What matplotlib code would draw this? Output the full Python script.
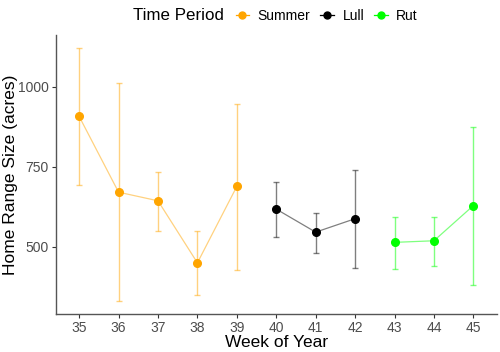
import numpy as np
import matplotlib
matplotlib.use('Agg')
import matplotlib.pyplot as plt
from matplotlib.lines import Line2D

plt.rcParams['font.family'] = ['Liberation Sans', 'DejaVu Sans']

# home range size by week, with error bar limits
weeks = [35, 36, 37, 38, 39, 40, 41, 42, 43, 44, 45]
period = ['Summer'] * 5 + ['Lull'] * 3 + ['Rut'] * 3
size = [908, 671, 644, 450, 689, 618, 546, 588, 514, 519, 629]
upper = [1123, 1014, 734, 548, 947, 704, 607, 740, 594, 594, 875]
lower = [695, 330, 551, 350, 429, 530, 482, 434, 431, 439, 382]

periods = ['Summer', 'Lull', 'Rut']
colors = {'Summer': '#FFA500', 'Lull': '#000000', 'Rut': '#00FF00'}

fig = plt.figure(figsize=(5, 3.52), dpi=100)
ax = fig.add_axes([0.111, 0.108, 0.883, 0.792])

weeks = np.array(weeks)
size = np.array(size)
upper = np.array(upper)
lower = np.array(lower)
period = np.array(period)

handles = []
for p in periods:
    m = period == p
    c = colors[p]
    ax.errorbar(weeks[m], size[m], yerr=[size[m] - lower[m], upper[m] - size[m]],
                fmt='none', ecolor=c, alpha=0.5, elinewidth=1.0, capsize=2.5,
                capthick=1.0, zorder=2)
    ax.plot(weeks[m], size[m], color=c, alpha=0.5, lw=0.9, zorder=3)
    ax.plot(weeks[m], size[m], 'o', color=c, ms=5.5, zorder=4)
    handles.append(Line2D([], [], color=c, marker='o', ms=5, lw=0.9))

ax.set_xlim(34.4, 45.6)
ax.set_ylim(290, 1162)
ax.set_xticks(weeks)
ax.set_yticks([500, 750, 1000])
ax.tick_params(axis='both', labelsize=10, labelcolor='#4D4D4D', color='#333333',
               length=3, width=0.8, pad=2)
for s in ['top', 'right']:
    ax.spines[s].set_visible(False)
for s in ['left', 'bottom']:
    ax.spines[s].set_color('#555555')
    ax.spines[s].set_linewidth(1.0)

ax.set_xlabel('Week of Year', fontsize=12.5, labelpad=0)
ax.set_ylabel('Home Range Size (acres)', fontsize=12.5)
ax.yaxis.set_label_coords(-0.084, 0.5)

fig.text(0.266, 0.955, 'Time Period', fontsize=12.2, va='center', ha='left')
fig.legend(handles, periods, ncol=3, loc='center left', bbox_to_anchor=(0.471, 0.955),
           frameon=False, fontsize=10, handlelength=1.0, handletextpad=0.6,
           columnspacing=0.7, borderaxespad=0, borderpad=0)

fig.savefig('out.png', dpi=100)
